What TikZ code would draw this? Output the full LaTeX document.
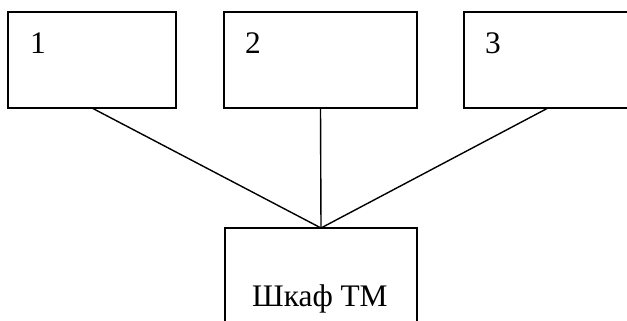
\documentclass[tikz,border=0pt]{standalone}
\usepackage{fontspec}
\setmainfont{Liberation Serif}
\begin{document}
\begin{tikzpicture}[x=1bp,y=-1bp,
  box/.style={draw=black,line width=1.4bp,minimum width=#1,minimum height=96bp,inner sep=0pt,outer sep=0pt},
  lbl/.style={anchor=base west,inner sep=0pt,font=\fontsize{31.5}{34}\selectfont},
  conn/.style={draw=black,line width=1.4bp}]
\useasboundingbox (0,0) rectangle (627,320);
\clip (0,0) rectangle (627,320);
\node[box=168bp] (b1) at (92,60) {};
\node[box=193bp] (b2) at (320.5,60) {};
\node[box=168bp] (b3) at (548,60) {};
\node[box=192bp,minimum height=100bp] (tm) at (321,278) {};
\node[lbl] (t1) at (30,53.5) {1};
\node[lbl] (t2) at (245,53.5) {2};
\node[lbl] (t3) at (485,53.5) {3};
\node[lbl] (t4) at (252,306) {Шкаф ТМ};
\draw[conn] (b1.south) -- (tm.north);
\draw[conn] (b2.south) -- (tm.north);
\draw[conn] (b3.south) -- (tm.north);
\end{tikzpicture}
\end{document}
